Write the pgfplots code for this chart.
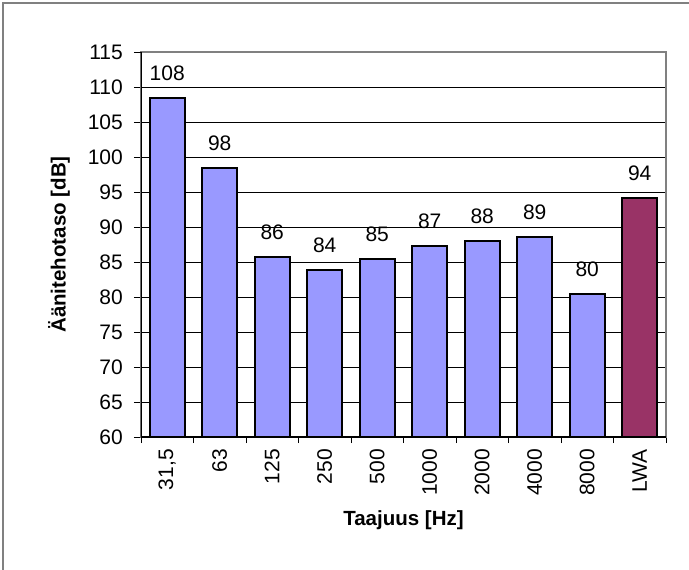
\documentclass[border=0pt]{standalone}
\usepackage{fontspec}
\setmainfont{Liberation Sans}
\usepackage{pgfplots}
\pgfplotsset{compat=1.18}
\usepackage{pgfplotstable}
\definecolor{barblue}{HTML}{9999FF}
\definecolor{barwine}{HTML}{993366}
\definecolor{framegray}{HTML}{808080}
\pgfplotstableread{
x y label
0 108.4 108
1 98.4 98
2 85.7 86
3 83.9 84
4 85.4 85
5 87.3 87
6 88.0 88
7 88.6 89
8 80.4 80
}\bands
\pgfplotstableread{
x y label
9 94.2 94
}\lwa
\newcommand{\tickfont}{\fontsize{21bp}{24bp}\selectfont}
\newcommand{\labfont}{\fontsize{20.5bp}{24bp}\selectfont\bfseries}
\begin{document}
\begin{tikzpicture}
\useasboundingbox (-141bp,-133bp) rectangle (548bp,437bp);
\draw[framegray, line width=1.5bp] (-138bp,-140bp) -- (-138bp,434bp) -- (560bp,434bp);
\begin{axis}[
  scale only axis,
  width=525bp, height=385bp,
  xmin=-0.5, xmax=9.5, ymin=60, ymax=115,
  ytick={60,65,...,110},
  extra y ticks={115},
  extra y tick style={grid=none},
  ymajorgrids,
  grid style={black, line width=0.8bp},
  xtick={0,...,9},
  xticklabels={{31,5},63,125,250,500,1000,2000,4000,8000,LWA},
  minor xtick={-0.5,0.5,...,9.5},
  tick align=outside,
  tick pos=left,
  major tick length=7bp,
  minor tick length=6bp,
  major x tick style={draw=none},
  tick style={black, line width=0.8bp},
  axis line style={framegray, line width=1.2bp},
  /pgf/number format/assume math mode=true,
  ticklabel style={font=\tickfont},
  xticklabel style={rotate=90, anchor=east, inner sep=0pt, xshift=-5bp},
  yticklabel style={anchor=east, inner sep=0pt, xshift=-11bp},
  xlabel={Taajuus [Hz]},
  ylabel={Äänitehotaso [dB]},
  xlabel style={font=\labfont, at={(axis description cs:0.5,-0.2156)}, anchor=center},
  ylabel style={font=\labfont, at={(axis description cs:-0.1562,0.5)}, anchor=center},
  ybar, bar width=35bp, bar shift=0pt,
  nodes near coords,
  point meta=explicit symbolic,
  every node near coord/.style={font=\tickfont, anchor=south, inner sep=0pt, yshift=16bp, black},
]
\addplot[fill=barblue, draw=black, line width=2bp] table[x=x, y=y, meta=label]{\bands};
\addplot[fill=barwine, draw=black, line width=2bp] table[x=x, y=y, meta=label]{\lwa};
\draw[black, line width=1.2bp] (rel axis cs:0,1) -- (rel axis cs:0,0) -- (rel axis cs:1,0);
\end{axis}
\end{tikzpicture}
\end{document}
